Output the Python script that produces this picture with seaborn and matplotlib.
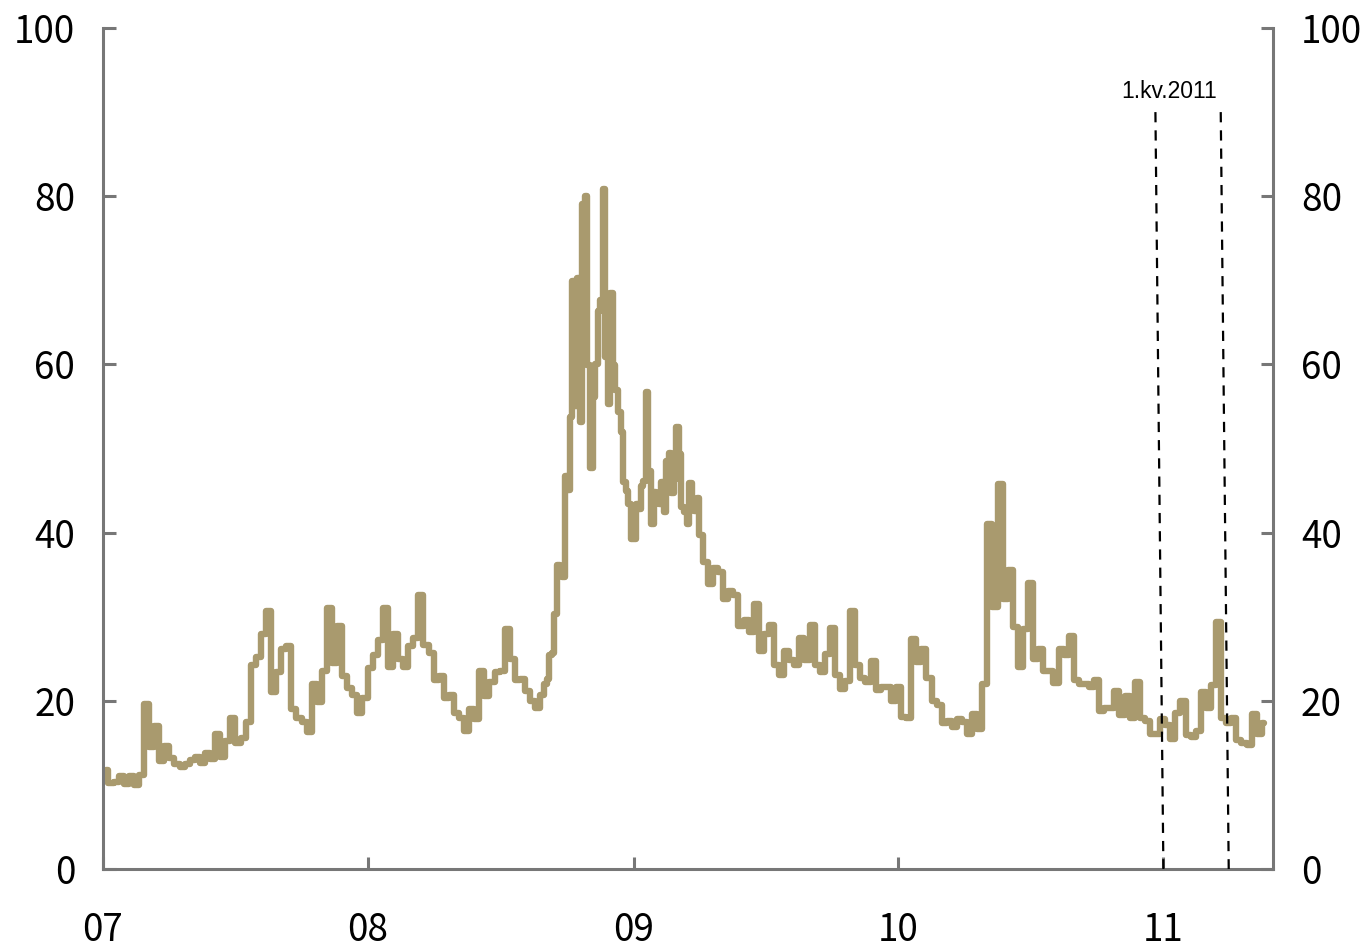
import numpy as np
import pandas as pd
import matplotlib
matplotlib.use("Agg")
import matplotlib.pyplot as plt
import seaborn as sns

# ---------------- data ----------------
# weekly (Friday) values, Jan 2007 - Aug 2008
dates_a = pd.date_range("2007-01-05", "2008-08-29", freq="W-FRI")
values_a = [
    11.8, 10.2, 10.4, 11.1,
    10.1, 11.0, 10.0, 11.2,
    19.6, 14.5, 17.0, 12.9, 14.6,
    13.2, 12.5, 12.1, 12.5,
    13.0, 13.3, 12.6, 13.8,
    13.1, 16.0, 13.3, 15.2, 18.0,
    15.0, 15.6, 17.5, 24.2,
    25.2, 28.0, 30.7, 21.0, 23.4,
    26.2, 26.5, 19.0, 18.0,
    17.5, 16.3, 22.0, 19.8,
    23.5, 31.0, 24.5, 28.9, 22.9,
    21.5, 20.7, 18.5, 20.3,
    # 2008
    23.9, 25.5, 27.2, 31.0,
    24.0, 28.0, 25.0, 24.0, 26.5,
    27.5, 32.6, 26.6, 25.7,
    22.5, 23.0, 20.3, 20.7,
    18.5, 17.9, 16.4, 19.0, 17.8,
    23.6, 20.6, 22.2, 23.4,
    23.5, 28.5, 25.0, 22.5,
    22.6, 21.2, 20.0, 19.1, 20.7,
]

# twice-weekly (Tue/Fri) values, Sep 2008 - Mar 2009
dates_b = pd.date_range("2008-09-01", "2009-03-31", freq="W-TUE").union(
    pd.date_range("2008-09-01", "2009-03-31", freq="W-FRI"))
values_b = [
    22.0, 22.6, 25.5, 25.7, 30.3, 36.2, 35.7, 34.7, 46.7,
    45.1, 53.7, 69.9, 55.1, 70.3, 53.1, 79.1, 80.0, 59.9,
    47.7, 56.1, 60.0, 66.3, 67.6, 80.9, 60.9, 55.3,
    68.5, 59.9, 57.0, 54.3, 52.0, 46.0, 45.0, 43.4, 39.2,
    39.2, 43.4, 42.8, 45.5, 46.1, 56.7, 47.3, 41.0, 44.8,
    43.5, 43.4, 46.0, 42.5, 48.5, 49.5, 44.7, 46.4,
    52.6, 49.3, 43.0, 42.4, 41.0, 45.9, 43.2, 42.6, 44.1,
]

# weekly (Friday) values, Apr 2009 - May 2011
dates_c = pd.date_range("2009-04-03", "2011-05-20", freq="W-FRI")
values_c = [
    39.7, 36.5, 33.9, 35.8,
    35.3, 32.1, 33.1, 32.6, 28.9,
    29.6, 28.2, 31.5, 25.9,
    27.9, 29.0, 24.3, 23.1, 25.9,
    24.8, 24.2, 27.5, 24.8,
    29.0, 24.3, 23.4, 25.6,
    28.7, 23.1, 21.4, 22.3, 30.7,
    24.2, 22.7, 22.2, 24.7,
    21.3, 21.6, 21.7, 20.0,
    # 2010
    21.7, 18.1, 17.9, 27.3, 24.6,
    26.1, 22.7, 20.0, 19.5,
    17.4, 17.6, 16.9, 17.8,
    17.5, 16.1, 18.4, 16.6, 22.0,
    41.0, 31.2, 45.8, 32.1,
    35.5, 28.8, 24.0, 28.5,
    34.0, 25.0, 26.2, 23.5, 23.5,
    22.1, 26.2, 25.5, 27.7,
    22.5, 22.0, 22.0, 21.7,
    22.5, 18.8, 19.1, 19.1, 21.2,
    18.3, 20.6, 18.0, 22.2,
    18.0, 17.6, 16.1, 16.0, 17.8,
    # 2011
    17.1, 15.5, 18.5, 20.0,
    15.9, 15.7, 16.4, 21.0,
    19.1, 21.9, 29.4, 17.9,
    17.4, 17.9, 15.3, 15.0, 14.8,
    18.4, 16.0, 17.4,
]

quarter_dates = ["2011-01-01", "2011-04-01"]
quarter_label = "1.kv.2011"
year_ticks = ["2007", "2008", "2009", "2010", "2011"]
year_labels = ["07", "08", "09", "10", "11"]
y_ticks = [0, 20, 40, 60, 80, 100]

df = pd.DataFrame({
    "date": list(dates_a) + list(dates_b) + list(dates_c),
    "value": values_a + values_b + values_c,
}).sort_values("date")

# ---------------- plot ----------------
sns.set_theme(style="white")
plt.rcParams["font.family"] = ["Noto Sans CJK KR", "DejaVu Sans"]

W, H = 1370, 947
fig = plt.figure(figsize=(W / 100, H / 100), dpi=100)
ax = fig.add_axes([103 / W, 1 - 869 / H, (1273 - 103) / W, (869 - 28) / H])

line_color = "#A99A6E"
sns.lineplot(data=df, x="date", y="value", ax=ax, color=line_color,
             linewidth=4.6, drawstyle="steps-mid")

# quarter markers (slightly slanted dashed lines as in original)
shift = pd.Timedelta(days=11)
for d in quarter_dates:
    d = pd.Timestamp(d)
    ax.plot([d - shift, d], [90, 0], color="black", linewidth=1.6,
            dashes=(4.6, 3.6), zorder=5)
ax.text(pd.Timestamp("2011-01-09"), 92.4, quarter_label, ha="center",
        va="center", fontsize=16.5, family=["Liberation Sans", "DejaVu Sans"],
        color="black")

ax.set_xlim(pd.Timestamp("2007-01-01"), pd.Timestamp("2011-06-01"))
ax.set_ylim(0, 100)
ax.set_xticks([pd.Timestamp(t) for t in year_ticks])
ax.set_xticklabels(year_labels)
ax.set_yticks(y_ticks)
ax.set_yticklabels([str(v) for v in y_ticks])
ax.set_xlabel("")
ax.set_ylabel("")

spine_color = "#777777"
for s in ["left", "right", "bottom"]:
    ax.spines[s].set_visible(True)
    ax.spines[s].set_color(spine_color)
    ax.spines[s].set_linewidth(2.2)
ax.spines["top"].set_visible(False)

ax.tick_params(axis="both", direction="in", length=9, width=2.2,
               color=spine_color, labelsize=26.5, labelcolor="black")
ax.tick_params(axis="y", left=True, right=True, labelleft=True,
               labelright=True, pad=20)
ax.tick_params(axis="x", bottom=True, pad=30)

ax.grid(False)
fig.savefig("out.png", dpi=100)
